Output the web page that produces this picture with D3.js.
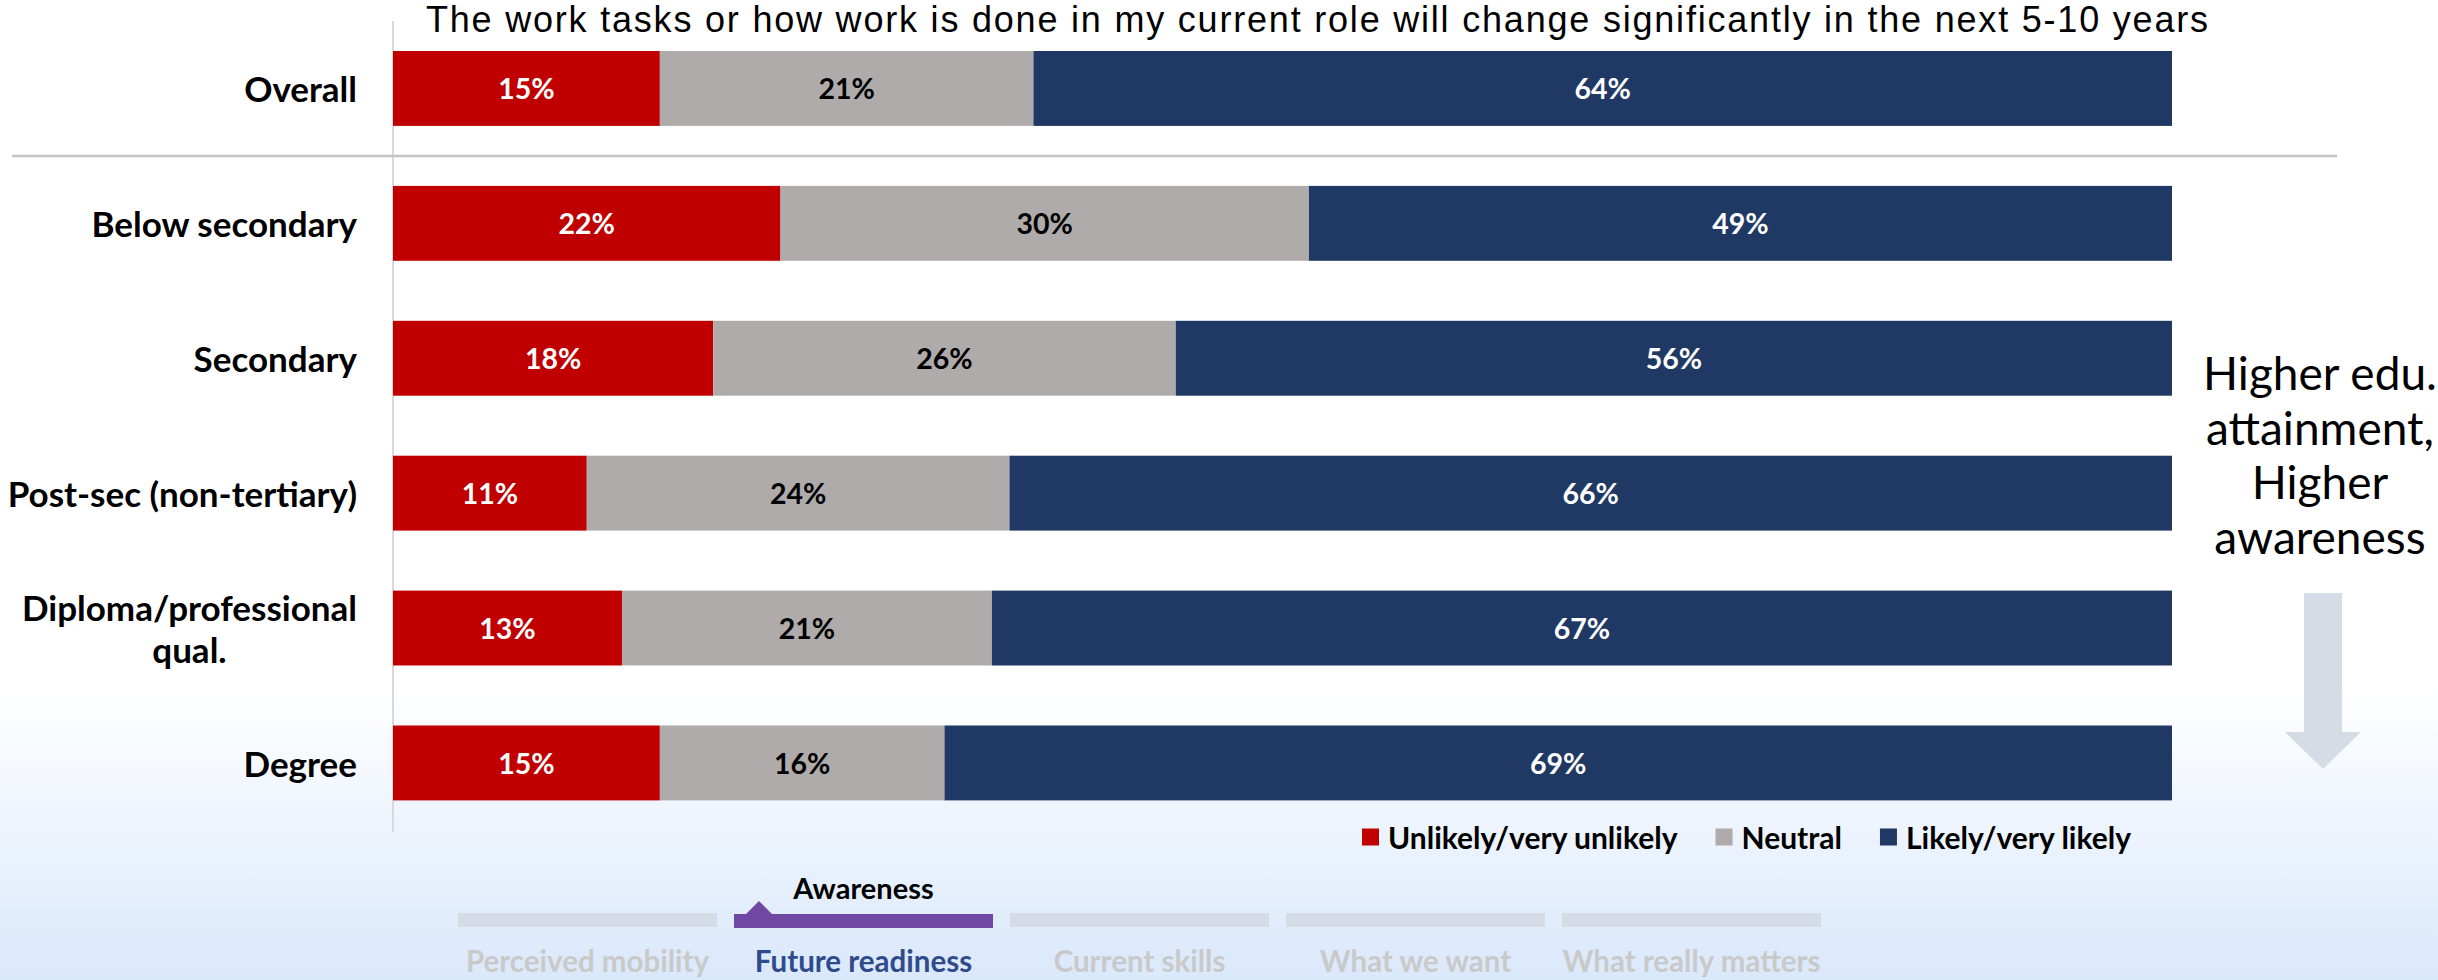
<!DOCTYPE html>
<html>
<head>
<meta charset="utf-8">
<script src="https://cdn.jsdelivr.net/npm/d3@7/dist/d3.min.js"></script>
<style>
  html, body { margin: 0; padding: 0; background: #fff; }
  svg { display: block; }
</style>
</head>
<body>
<svg id="chart" width="2438" height="980"></svg>
<script>
// Survey question shown as the chart heading
const title = "The work tasks or how work is done in my current role will change significantly in the next 5-10 years";

// Row categories (education attainment) — the first row is the overall total
const categories = ["Overall", "Below secondary", "Secondary", "Post-sec (non-tertiary)", "Diploma/professional qual.", "Degree"];
const categoryLines = [["Overall"], ["Below secondary"], ["Secondary"], ["Post-sec (non-tertiary)"], ["Diploma/professional", "qual."], ["Degree"]];

// Response groups and their shares (%) per row
const seriesNames = ["Unlikely/very unlikely", "Neutral", "Likely/very likely"];
const unlikely = [15, 22, 18, 11, 13, 15];
const neutral  = [21, 30, 26, 24, 21, 16];
const likely   = [64, 49, 56, 66, 67, 69];

// Side note and section navigation strip
const noteLines = ["Higher edu.", "attainment,", "Higher", "awareness"];
const navItems = ["Perceived mobility", "Future readiness", "Current skills", "What we want", "What really matters"];
const navActive = "Future readiness";
const navCaption = "Awareness";

const colors = ["#c00000", "#afabab", "#203864"];
const labelColors = ["#ffffff", "#000000", "#ffffff"];
const BOLD = "Lato, 'Noto Sans', sans-serif";

const svg = d3.select("#chart");

// Page background: white fading into a pale blue towards the bottom
const defs = svg.append("defs");
const grad = defs.append("linearGradient").attr("id", "bg").attr("x1", 0).attr("y1", 0).attr("x2", 0).attr("y2", 1);
grad.append("stop").attr("offset", "0%").attr("stop-color", "#ffffff");
grad.append("stop").attr("offset", "70%").attr("stop-color", "#ffffff");
grad.append("stop").attr("offset", "100%").attr("stop-color", "#dae8fb");
svg.append("rect").attr("width", 2438).attr("height", 980).attr("fill", "url(#bg)");

// Table of rows for stacking
const rows = categories.map((c, i) => ({
  category: c,
  [seriesNames[0]]: unlikely[i],
  [seriesNames[1]]: neutral[i],
  [seriesNames[2]]: likely[i]
}));

// Each row is expanded to the full bar width (rounded shares can sum to 101)
const stack = d3.stack().keys(seriesNames).offset(d3.stackOffsetExpand);
const layers = stack(rows);

const x = d3.scaleLinear().domain([0, 1]).range([393, 2172]);
const y = d3.scaleBand().domain(categories).range([21, 830.4]).paddingInner(0.4448).paddingOuter(0.2224);

// Category axis line
svg.append("line")
  .attr("x1", x(0)).attr("x2", x(0))
  .attr("y1", y.range()[0]).attr("y2", y.range()[1] + 2)
  .attr("stroke", "#d9d9d9").attr("stroke-width", 2);

// Divider separating the overall row from the breakdown
const sepY = (y(categories[0]) + y.bandwidth() + y(categories[1])) / 2;
svg.append("line")
  .attr("x1", 12).attr("x2", 2337)
  .attr("y1", sepY).attr("y2", sepY)
  .attr("stroke", "#c4c4c4").attr("stroke-width", 2.5);

// Heading
svg.append("text")
  .attr("x", 426).attr("y", 32)
  .attr("font-family", "'Liberation Sans', Arial, sans-serif")
  .attr("font-size", 36)
  .attr("textLength", 1782)
  .attr("lengthAdjust", "spacing")
  .attr("fill", "#000")
  .text(title);

// Stacked bars
const g = svg.append("g");
layers.forEach((layer, li) => {
  g.selectAll(null)
    .data(layer)
    .join("rect")
    .attr("x", d => x(d[0]))
    .attr("y", d => y(d.data.category))
    .attr("width", d => x(d[1]) - x(d[0]))
    .attr("height", y.bandwidth())
    .attr("fill", colors[li]);

  g.selectAll(null)
    .data(layer)
    .join("text")
    .attr("x", d => (x(d[0]) + x(d[1])) / 2)
    .attr("y", d => y(d.data.category) + y.bandwidth() / 2)
    .attr("text-anchor", "middle")
    .attr("dominant-baseline", "central")
    .attr("font-family", BOLD)
    .attr("font-weight", 700)
    .attr("font-size", 28.5)
    .attr("fill", labelColors[li])
    .text(d => d.data[seriesNames[li]] + "%");
});

// Category labels, right-aligned to the axis; multi-line labels centred within their block
const labelRight = 357;
categories.forEach((c, i) => {
  const lines = categoryLines[i];
  const cy = y(c) + y.bandwidth() / 2;
  const lh = 42;
  const t = svg.append("text")
    .attr("font-family", BOLD)
    .attr("font-weight", 700)
    .attr("font-size", 35)
    .attr("fill", "#000")
    .attr("dominant-baseline", "central");
  const spans = lines.map((ln, k) => t.append("tspan")
    .attr("y", cy + (k - (lines.length - 1) / 2) * lh)
    .text(ln));
  const widths = spans.map(s => s.node().getComputedTextLength());
  const maxW = d3.max(widths);
  spans.forEach(s => s.attr("x", labelRight - maxW / 2).attr("text-anchor", "middle"));
});

// Legend
const legend = svg.append("g").attr("transform", "translate(1362, 837)");
let lx = 0;
seriesNames.forEach((name, i) => {
  legend.append("rect")
    .attr("x", lx).attr("y", -8.5)
    .attr("width", 17).attr("height", 17)
    .attr("fill", colors[i]);
  const t = legend.append("text")
    .attr("x", lx + 26).attr("y", 0)
    .attr("dominant-baseline", "central")
    .attr("font-family", BOLD)
    .attr("font-weight", 700)
    .attr("font-size", 30)
    .attr("fill", "#000")
    .text(name);
  lx += 26 + t.node().getComputedTextLength() + 38;
});

// Side note with downward arrow
const noteX = 2320;
svg.append("g").selectAll("text")
  .data(noteLines)
  .join("text")
  .attr("x", noteX)
  .attr("y", (d, i) => 390 + i * 54.5)
  .attr("text-anchor", "middle")
  .attr("font-family", "Lato, 'Noto Sans', sans-serif")
  .attr("font-size", 46)
  .attr("fill", "#000")
  .text(d => d);

const ax = 2323;
const arrow = d3.path();
arrow.moveTo(ax - 19, 593);
arrow.lineTo(ax + 19, 593);
arrow.lineTo(ax + 19, 732);
arrow.lineTo(ax + 38, 732);
arrow.lineTo(ax, 769);
arrow.lineTo(ax - 38, 732);
arrow.lineTo(ax - 19, 732);
arrow.closePath();
svg.append("path").attr("d", arrow.toString()).attr("fill", "#d6dce5");

// Section navigation strip
const navStep = 276, navGap = 17;
const nav = d3.scaleBand().domain(navItems)
  .range([458, 458 + navStep * navItems.length - navGap])
  .paddingInner(navGap / navStep).paddingOuter(0);
const navG = svg.append("g");
navItems.forEach(item => {
  const active = item === navActive;
  const bx = nav(item);
  const bw = nav.bandwidth();
  navG.append("rect")
    .attr("x", bx).attr("y", active ? 914 : 913)
    .attr("width", bw).attr("height", 14)
    .attr("fill", active ? "#7048a3" : "#d6dce5");
  navG.append("text")
    .attr("x", bx + bw / 2).attr("y", 972)
    .attr("text-anchor", "middle")
    .attr("font-family", BOLD)
    .attr("font-weight", 700)
    .attr("font-size", 29.5)
    .attr("fill", active ? "#2f4b8c" : "#c9c9c9")
    .text(item);
  if (active) {
    navG.append("path")
      .attr("d", `M${bx + 12},914 L${bx + 25},901 L${bx + 38},914 Z`)
      .attr("fill", "#7048a3");
    navG.append("text")
      .attr("x", bx + bw / 2).attr("y", 899)
      .attr("text-anchor", "middle")
      .attr("font-family", BOLD)
      .attr("font-weight", 700)
      .attr("font-size", 29)
      .attr("fill", "#000")
      .text(navCaption);
  }
});
</script>
</body>
</html>
